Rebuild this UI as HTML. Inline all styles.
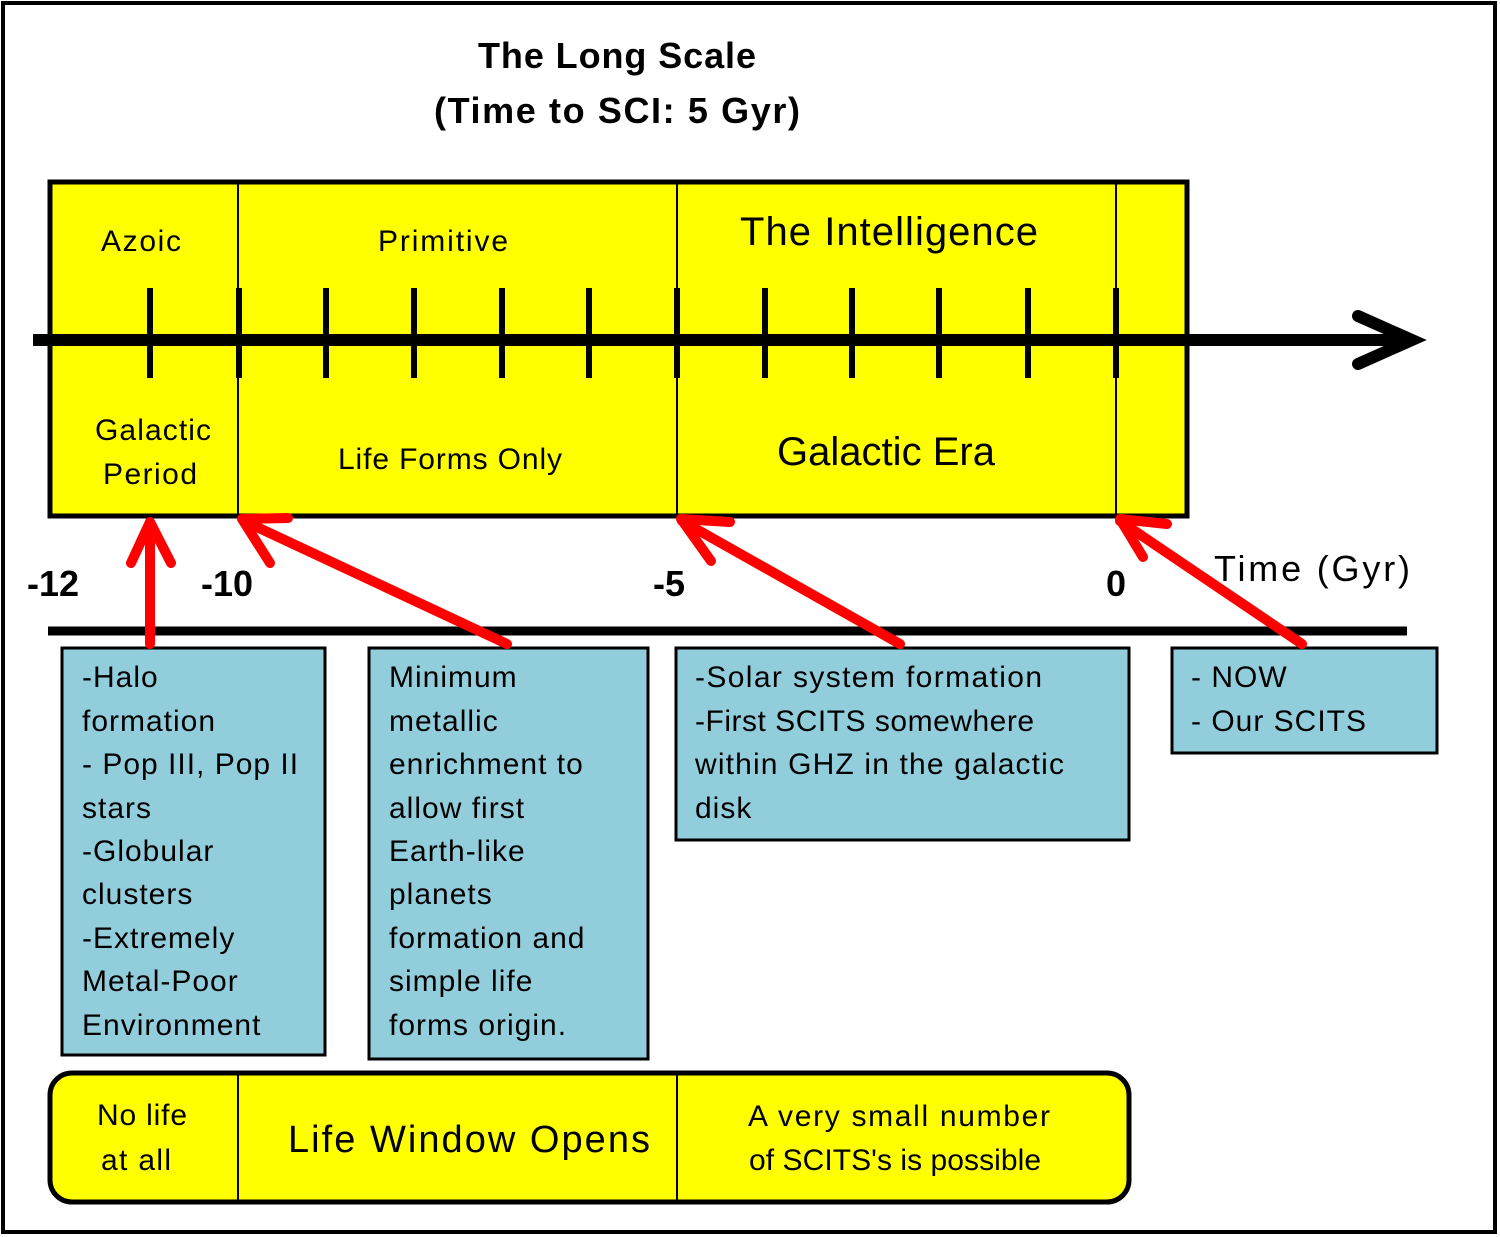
<!DOCTYPE html>
<html><head><meta charset="utf-8"><style>
html,body{margin:0;padding:0;background:#fff;}
svg{display:block;}
text{font-family:"Liberation Sans",sans-serif;fill:#000;}
</style></head><body>
<svg width="1500" height="1237" viewBox="0 0 1500 1237" xmlns="http://www.w3.org/2000/svg">
<rect x="3" y="3" width="1492" height="1229" fill="#fff" stroke="#000" stroke-width="4"/>
<text x="617" y="68" font-size="36" font-weight="bold" text-anchor="middle" textLength="278">The Long Scale</text>
<text x="617" y="123" font-size="36" font-weight="bold" text-anchor="middle" textLength="366">(Time to SCI: 5 Gyr)</text>

<rect x="50" y="182" width="1137" height="334" fill="#ffff00" stroke="#000" stroke-width="5"/>
<line x1="238" y1="182" x2="238" y2="516" stroke="#000" stroke-width="2"/>
<line x1="677" y1="182" x2="677" y2="516" stroke="#000" stroke-width="2"/>
<line x1="1116" y1="182" x2="1116" y2="516" stroke="#000" stroke-width="2"/>

<text x="141" y="251" font-size="30" text-anchor="middle" textLength="80">Azoic</text>
<text x="443" y="251" font-size="30" text-anchor="middle" textLength="130">Primitive</text>
<text x="889" y="245" font-size="40" text-anchor="middle" textLength="298">The Intelligence</text>
<text x="153" y="440" font-size="30" text-anchor="middle" textLength="116">Galactic</text>
<text x="150" y="484" font-size="30" text-anchor="middle" textLength="94">Period</text>
<text x="450" y="469" font-size="30" text-anchor="middle" textLength="224">Life Forms Only</text>
<text x="886" y="465" font-size="40" text-anchor="middle" textLength="218">Galactic Era</text>

<line x1="33" y1="340" x2="1405" y2="340" stroke="#000" stroke-width="12"/>
<polyline points="1358,316 1412,340 1358,364" fill="none" stroke="#000" stroke-width="12" stroke-linecap="round" stroke-linejoin="miter"/>
<g stroke="#000" stroke-width="6">
<line x1="150" y1="288" x2="150" y2="378"/><line x1="239" y1="288" x2="239" y2="378"/>
<line x1="326" y1="288" x2="326" y2="378"/><line x1="414" y1="288" x2="414" y2="378"/>
<line x1="502" y1="288" x2="502" y2="378"/><line x1="589" y1="288" x2="589" y2="378"/>
<line x1="677" y1="288" x2="677" y2="378"/><line x1="765" y1="288" x2="765" y2="378"/>
<line x1="852" y1="288" x2="852" y2="378"/><line x1="939" y1="288" x2="939" y2="378"/>
<line x1="1028" y1="288" x2="1028" y2="378"/><line x1="1116" y1="288" x2="1116" y2="378"/>
</g>

<text x="53" y="596" font-size="36" font-weight="bold" text-anchor="middle">-12</text>
<text x="227" y="596" font-size="36" font-weight="bold" text-anchor="middle">-10</text>
<text x="669" y="596" font-size="36" font-weight="bold" text-anchor="middle">-5</text>
<text x="1116" y="596" font-size="36" font-weight="bold" text-anchor="middle">0</text>
<text x="1312" y="581" font-size="36" text-anchor="middle" textLength="196">Time (Gyr)</text>

<line x1="48" y1="631" x2="1407" y2="631" stroke="#000" stroke-width="9"/>

<g fill="#92cddc" stroke="#000" stroke-width="3">
<rect x="62" y="648" width="263" height="407"/>
<rect x="369" y="648" width="279" height="411"/>
<rect x="676" y="648" width="453" height="192"/>
<rect x="1172" y="648" width="265" height="105"/>
</g>
<g font-size="30" letter-spacing="1">
<text x="82" y="687">-Halo</text>
<text x="82" y="731">formation</text>
<text x="82" y="774">- Pop III, Pop II</text>
<text x="82" y="818">stars</text>
<text x="82" y="861">-Globular</text>
<text x="82" y="904">clusters</text>
<text x="82" y="948">-Extremely</text>
<text x="82" y="991">Metal-Poor</text>
<text x="82" y="1035">Environment</text>

<text x="389" y="687">Minimum</text>
<text x="389" y="731">metallic</text>
<text x="389" y="774">enrichment to</text>
<text x="389" y="818">allow first</text>
<text x="389" y="861">Earth-like</text>
<text x="389" y="904">planets</text>
<text x="389" y="948">formation and</text>
<text x="389" y="991">simple life</text>
<text x="389" y="1035">forms origin.</text>

<text x="695" y="687" textLength="348">-Solar system formation</text>
<text x="695" y="731" textLength="340">-First SCITS somewhere</text>
<text x="695" y="774" textLength="370">within GHZ in the galactic</text>
<text x="695" y="818">disk</text>

<text x="1191" y="687">- NOW</text>
<text x="1191" y="731">- Our SCITS</text>
</g>

<rect x="50" y="1073" width="1079" height="129" rx="22" ry="22" fill="#ffff00" stroke="#000" stroke-width="5"/>
<line x1="238" y1="1073" x2="238" y2="1202" stroke="#000" stroke-width="2"/>
<line x1="677" y1="1073" x2="677" y2="1202" stroke="#000" stroke-width="2"/>
<text x="142" y="1125" font-size="30" text-anchor="middle" textLength="90">No life</text>
<text x="136" y="1170" font-size="30" text-anchor="middle" textLength="70">at all</text>
<text x="469" y="1152" font-size="38" text-anchor="middle" textLength="362">Life Window Opens</text>
<text x="899" y="1126" font-size="30" text-anchor="middle" textLength="302">A very small number</text>
<text x="895" y="1170" font-size="30" text-anchor="middle" textLength="292">of SCITS's is possible</text>

<g stroke="#ff0000" stroke-width="10" fill="none" stroke-linecap="round" stroke-linejoin="round">
<line x1="150" y1="644" x2="150" y2="524"/>
<polyline points="131,563 150,522 171,563"/>
<line x1="507" y1="644" x2="244" y2="521"/>
<polyline points="288,518 242,519 270,563"/>
<line x1="900" y1="644" x2="682" y2="521"/>
<polyline points="730,522 681,519 711,561"/>
<line x1="1302" y1="644" x2="1120" y2="521"/>
<polyline points="1167,524 1120,519 1143,557"/>
</g>
</svg>
</body></html>
